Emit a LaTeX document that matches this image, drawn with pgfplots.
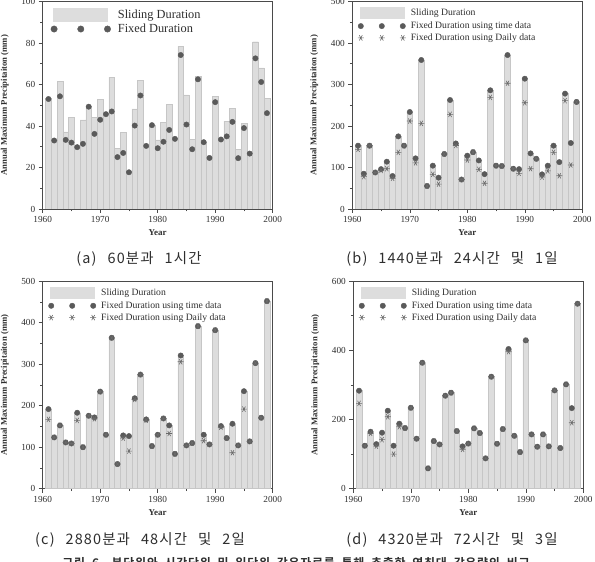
\documentclass[border=0pt]{standalone}
\usepackage{fontspec}
\setmainfont{Liberation Serif}
\newfontfamily\kr[WordSpace=2.5, LetterSpace=8]{Noto Sans CJK KR}
\newfontfamily\krb[WordSpace=2, LetterSpace=6]{Noto Sans CJK KR Bold}
\usepackage{pgfplots}
\usepackage{pgfplotstable}
\pgfplotsset{compat=1.18}

\definecolor{barfill}{HTML}{DDDDDD}
\definecolor{barline}{HTML}{C6C6C6}
\definecolor{dotgray}{HTML}{5A5A5A}
\definecolor{stargray}{HTML}{6A6A6A}
\definecolor{axisgray}{HTML}{4A4A4A}
\definecolor{textgray}{HTML}{2E2E2E}

% annual maxima: sliding duration, fixed duration (time data), fixed duration (daily data)
\pgfplotstableread{
year slide fixed
1961 53.3 53.0
1962 33.0 33.0
1963 61.5 54.3
1964 37.2 33.3
1965 44.0 32.0
1966 30.0 29.8
1967 43.0 31.4
1968 49.3 49.3
1969 44.0 36.2
1970 53.0 43.0
1971 46.0 45.7
1972 63.6 47.0
1973 29.3 25.0
1974 36.9 27.0
1975 18.0 17.7
1976 48.3 40.2
1977 62.0 54.7
1978 30.5 30.4
1979 40.5 40.4
1980 33.3 29.3
1981 41.9 32.4
1982 50.5 38.1
1983 34.0 33.8
1984 78.4 74.2
1985 55.0 40.7
1986 33.6 28.8
1987 64.0 62.5
1988 32.3 32.2
1989 24.6 24.6
1990 54.4 51.5
1991 33.5 33.5
1992 42.3 35.0
1993 48.5 42.0
1994 28.8 24.5
1995 41.4 39.0
1996 27.0 26.7
1997 80.6 72.6
1998 68.0 61.2
1999 53.3 46.2
}\tabA

\pgfplotstableread{
year slide fixed daily
1961 152.6 152.6 143.8
1962 85.0 85.0 78.0
1963 152.6 152.6 152.6
1964 88.0 88.0 88.0
1965 96.0 96.0 93.0
1966 114.0 114.0 97.0
1967 79.5 79.5 74.0
1968 175.0 175.0 136.5
1969 152.6 152.6 152.6
1970 233.7 233.7 212.0
1971 122.0 122.0 111.0
1972 359.0 359.0 206.4
1973 55.4 55.4 55.4
1974 104.4 104.4 83.5
1975 75.5 75.5 60.0
1976 132.5 132.5 132.5
1977 262.6 262.6 228.0
1978 158.0 158.0 153.0
1979 71.0 71.0 71.0
1980 128.5 128.5 118.0
1981 137.0 137.0 137.0
1982 117.0 117.0 95.6
1983 84.0 84.0 62.0
1984 286.0 286.0 269.0
1985 104.4 104.4 104.4
1986 103.6 103.6 103.6
1987 371.0 371.0 303.0
1988 97.0 97.0 97.0
1989 96.0 96.0 86.0
1990 314.0 314.0 256.0
1991 134.0 134.0 97.0
1992 121.0 121.0 121.0
1993 83.5 83.5 77.0
1994 104.4 104.4 92.0
1995 152.6 152.6 136.5
1996 113.0 113.0 80.0
1997 278.0 278.0 261.0
1998 159.0 159.0 106.0
1999 258.0 258.0 258.0
}\tabB

\pgfplotstableread{
year slide fixed daily
1961 191.8 191.8 167.0
1962 123.6 123.6 123.6
1963 152.5 152.5 152.5
1964 111.5 111.5 111.5
1965 109.0 109.0 109.0
1966 183.0 183.0 164.5
1967 100.0 100.0 100.0
1968 175.8 175.8 175.8
1969 171.8 171.8 168.5
1970 234.0 234.0 234.0
1971 130.0 130.0 130.0
1972 363.6 363.6 363.6
1973 59.4 59.4 59.4
1974 128.4 128.4 122.0
1975 126.8 126.8 90.7
1976 218.0 218.0 215.0
1977 275.0 275.0 275.0
1978 167.0 167.0 165.0
1979 102.7 102.7 102.7
1980 130.0 130.0 130.0
1981 169.3 169.3 169.3
1982 152.5 152.5 133.0
1983 84.0 84.0 84.0
1984 321.0 321.0 305.8
1985 104.3 104.3 104.3
1986 110.0 110.0 110.0
1987 391.7 391.7 391.7
1988 130.0 130.0 115.6
1989 106.7 106.7 106.7
1990 382.0 382.0 382.0
1991 151.0 151.0 148.0
1992 122.0 122.0 122.0
1993 156.5 156.5 86.7
1994 104.3 104.3 104.3
1995 235.0 235.0 191.8
1996 114.0 114.0 114.0
1997 302.6 302.6 302.6
1998 171.0 171.0 171.0
1999 452.0 452.0 452.0
}\tabC

\pgfplotstableread{
year slide fixed daily
1961 283.4 283.4 246.7
1962 124.3 124.3 124.3
1963 164.8 164.8 160.0
1964 129.0 129.0 123.0
1965 162.0 162.0 141.7
1966 225.5 225.5 208.0
1967 124.3 124.3 100.0
1968 188.0 188.0 179.0
1969 175.4 175.4 175.4
1970 234.0 234.0 234.0
1971 144.6 144.6 144.6
1972 364.3 364.3 364.3
1973 58.8 58.8 58.8
1974 137.8 137.8 137.8
1975 128.0 128.0 128.0
1976 269.0 269.0 269.0
1977 277.6 277.6 277.6
1978 166.7 166.7 166.7
1979 122.4 122.4 113.7
1980 130.5 130.5 130.5
1981 174.5 174.5 174.5
1982 161.0 161.0 161.0
1983 87.7 87.7 87.7
1984 323.9 323.9 323.9
1985 130.0 130.0 130.0
1986 172.5 172.5 172.5
1987 404.0 404.0 396.0
1988 153.0 153.0 153.0
1989 106.0 106.0 106.0
1990 429.0 429.0 429.0
1991 157.0 157.0 157.0
1992 121.4 121.4 121.4
1993 157.0 157.0 157.0
1994 122.4 122.4 122.4
1995 284.3 284.3 284.3
1996 117.6 117.6 117.6
1997 301.7 301.7 301.7
1998 233.0 233.0 190.8
1999 535.0 535.0 535.0
}\tabD

\pgfplotsset{
  panel/.style={
    scale only axis, width=230bp, height=207.5bp,
    xmin=1960, xmax=2000, ymin=0,
    xtick={1960,1970,...,2000}, minor x tick num=1, minor y tick num=1,
    tick align=outside, tick pos=left,
    axis line style={draw=axisgray, line width=0.8bp},
    major tick length=4bp, minor tick length=2.5bp,
    every tick/.append style={draw=axisgray, line width=0.6bp},
    tick label style={font=\fontsize{9.3}{10}\selectfont, text=textgray},
    /pgf/number format/assume math mode=true,
    /pgf/number format/1000 sep={},
    xlabel={Year}, ylabel={Annual Maximum Precipitaiton (mm)},
    every axis x label/.style={at={(rel axis cs:0.5,0)}, anchor=center, yshift=-24bp,
      font=\bfseries\fontsize{9}{10}\selectfont, text=textgray},
    every axis y label/.style={at={(rel axis cs:0,0.5)}, xshift=-38bp, rotate=90, anchor=center,
      font=\bfseries\fontsize{8.7}{10}\selectfont, text=textgray},
    legend cell align=left,
  },
  slidebar/.style={ybar, bar width=1, fill=barfill, draw=barline, line width=0.4bp},
  timedot/.style={only marks, mark=*, mark size=2.7bp, mark options={fill=dotgray, draw=dotgray}},
  dailystar/.style={only marks, mark=asterisk, mark size=3bp,
    mark options={draw=stargray, line width=0.6bp, rotate=90}},
  smalllegend/.style={legend style={draw=none, fill=none, at={(rel axis cs:0,1)}, anchor=north west,
      xshift=5.5bp, yshift=-5.5bp, inner sep=0pt, outer sep=0pt, column sep=5bp, row sep=3.6bp,
      nodes={inner sep=0pt, text=textgray, font=\fontsize{9.7}{10}\selectfont}}},
  legbarS/.style={legend image code/.code={\fill[barfill] (1.9bp,-5.5bp) rectangle (45.9bp,5.5bp);}},
  legdotS/.style={legend image code/.code={\fill[dotgray] (2.7bp,0) circle (2.7bp) (23.7bp,0) circle (2.7bp) (44.7bp,0) circle (2.7bp);}},
  legstarS/.style={legend image code/.code={\foreach \xx in {2.7,23.7,44.7}
      {\draw[stargray, line width=0.6bp] plot[mark=asterisk, mark size=3bp, mark options={rotate=90}] coordinates {(\xx bp,0)};}}},
}

\begin{document}
\begin{tikzpicture}
\useasboundingbox (0,0) rectangle (595bp,562bp);

% (a) 60 minutes vs 1 hour
\begin{axis}[panel, at={(42.7bp,353bp)}, anchor=south west,
  ymax=100, ytick={0,20,...,100},
  legend style={draw=none, fill=none, at={(rel axis cs:0,1)}, anchor=north west,
    xshift=8bp, yshift=-6.6bp, inner sep=0pt, outer sep=0pt, column sep=7bp, row sep=2.5bp,
    nodes={inner sep=0pt, text=textgray, font=\fontsize{12.4}{13}\selectfont}}]
\addplot[slidebar, legend image code/.code={\fill[barfill] (2.5bp,-6.5bp) rectangle (56.5bp,6.5bp);}]
  table[x=year, y=slide]{\tabA};
\addlegendentry{Sliding Duration}
\addplot[timedot, legend image code/.code={\fill[dotgray] (3.2bp,0) circle (3.2bp) (29.9bp,0) circle (3.2bp) (56.6bp,0) circle (3.2bp);}]
  table[x=year, y=fixed]{\tabA};
\addlegendentry{Fixed Duration}
\end{axis}

% (b) 1440 minutes vs 24 hours and 1 day
\begin{axis}[panel, smalllegend, at={(352.3bp,353bp)}, anchor=south west,
  ymax=500, ytick={0,100,...,500}]
\addplot[slidebar, legbarS] table[x=year, y=slide]{\tabB};
\addlegendentry{Sliding Duration}
\addplot[timedot, legdotS] table[x=year, y=fixed]{\tabB};
\addlegendentry{Fixed Duration using time data}
\addplot[dailystar, legstarS] table[x=year, y=daily]{\tabB};
\addlegendentry{Fixed Duration using Daily data}
\end{axis}

% (c) 2880 minutes vs 48 hours and 2 days
\begin{axis}[panel, smalllegend, at={(42.7bp,73.3bp)}, anchor=south west,
  ymax=500, ytick={0,100,...,500}]
\addplot[slidebar, legbarS] table[x=year, y=slide]{\tabC};
\addlegendentry{Sliding Duration}
\addplot[timedot, legdotS] table[x=year, y=fixed]{\tabC};
\addlegendentry{Fixed Duration using time data}
\addplot[dailystar, legstarS] table[x=year, y=daily]{\tabC};
\addlegendentry{Fixed Duration using Daily data}
\end{axis}

% (d) 4320 minutes vs 72 hours and 3 days
\begin{axis}[panel, smalllegend, at={(353.3bp,73.3bp)}, anchor=south west,
  ymax=600, ytick={0,200,...,600}]
\addplot[slidebar, legbarS] table[x=year, y=slide]{\tabD};
\addlegendentry{Sliding Duration}
\addplot[timedot, legdotS] table[x=year, y=fixed]{\tabD};
\addlegendentry{Fixed Duration using time data}
\addplot[dailystar, legstarS] table[x=year, y=daily]{\tabD};
\addlegendentry{Fixed Duration using Daily data}
\end{axis}

% sub-captions
\begin{scope}[every node/.style={text=textgray, font=\kr\fontsize{14.5}{15}\selectfont}]
\node at (139bp,303bp) {(a) 60분과 1시간};
\node at (452bp,303bp) {(b) 1440분과 24시간 및 1일};
\node at (140bp,22bp) {(c) 2880분과 48시간 및 2일};
\node at (452bp,22bp) {(d) 4320분과 72시간 및 3일};
\node[font=\krb\fontsize{12}{13}\selectfont] at (296bp,-1bp) {그림 6. 분단위와 시간단위 및 일단위 강우자료를 통해 추출한 연최대 강우량의 비교};
\end{scope}
\end{tikzpicture}
\end{document}
